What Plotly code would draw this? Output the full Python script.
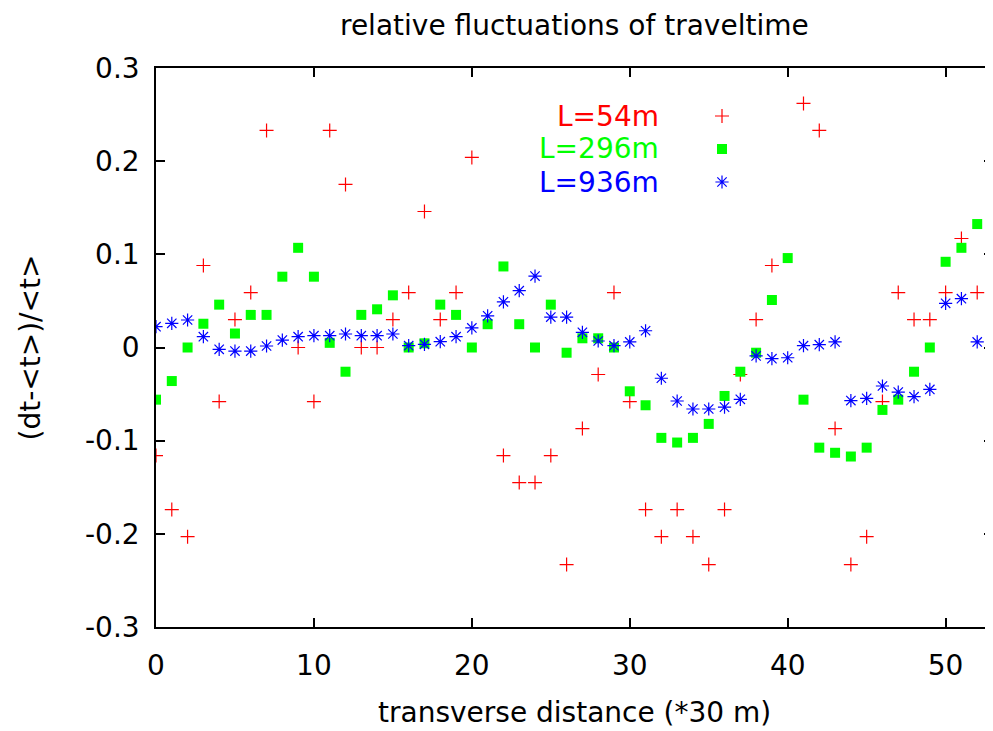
import plotly.graph_objects as go

# ---- data ----
x_vals = list(range(0, 54))

red_54m = [-0.116, -0.174, -0.203, 0.088, -0.058, 0.030, 0.059, 0.233, None, 0.0,
           -0.058, 0.233, 0.175, 0.0, 0.0, 0.030, 0.059, 0.146, 0.030, 0.059,
           0.204, None, -0.116, -0.145, -0.145, -0.116, -0.233, -0.087, -0.029, 0.059,
           -0.058, -0.174, -0.203, -0.174, -0.203, -0.233, -0.174, -0.029, 0.030, 0.088,
           None, 0.262, 0.233, -0.087, -0.233, -0.203, -0.058, 0.059, 0.030, 0.030,
           0.059, 0.117, 0.059, -0.029]

green_296m = [-0.056, -0.036, 0.0, 0.0255, 0.046, 0.015, 0.035, 0.035, 0.076, 0.107,
              0.076, 0.005, -0.026, 0.035, 0.041, 0.056, 0.0, 0.0045, 0.046, 0.035,
              0.0, 0.025, 0.087, 0.025, 0.0, 0.046, -0.0056, 0.0099, 0.0099, 0.0,
              -0.047, -0.062, -0.097, -0.102, -0.097, -0.082, -0.052, -0.026, -0.0056, 0.051,
              0.096, -0.056, -0.1075, -0.113, -0.117, -0.1075, -0.067, -0.056, -0.026, 0.0,
              0.092, 0.107, 0.1325, 0.040]

blue_936m = [0.0223, 0.026, 0.0295, 0.0116, -0.002, -0.0038, -0.0038, 0.0016, 0.008, 0.0116,
             0.0127, 0.0127, 0.0145, 0.0127, 0.0127, 0.0145, 0.002, 0.0034, 0.0062, 0.0116,
             0.021, 0.034, 0.049, 0.061, 0.0767, 0.0327, 0.0327, 0.0163, 0.007, 0.002,
             0.006, 0.018, -0.033, -0.0574, -0.066, -0.066, -0.064, -0.0556, -0.009, -0.012,
             -0.011, 0.002, 0.003, 0.006, -0.057, -0.0545, -0.0413, -0.0478, -0.0528, -0.045,
             0.0474, 0.0524, 0.006, 0.012]

series_names = ["L=54m", "L=296m", "L=936m"]
series_colors = ["#ff0000", "#00ff00", "#0000ff"]

x_ticks = [0, 10, 20, 30, 40, 50]
y_ticks = [-0.3, -0.2, -0.1, 0, 0.1, 0.2, 0.3]
y_ticktext = ["-0.3", "-0.2", "-0.1", "0", "0.1", "0.2", "0.3"]

title_text = "relative fluctuations of traveltime"
x_title = "transverse distance (*30 m)"
y_title = "(dt-<t>)/<t>"

# ---- figure ----
# page has an 8px body margin, so the figure is drawn 8px smaller and all
# positions are expressed in figure pixels (page pixels minus 8)
OFF = 8
W, H = 993 - OFF, 731 - OFF
L_M, R_M, T_M, B_M = 156 - OFF, 0, 68 - OFF, 731 - 627
FONT = "DejaVu Sans"
FS = 28

symbols = ["cross-thin", "square", "asterisk-open"]
sizes = [10, 10, 11]


def make_marker(sym, sz, col):
    if sym == "square":
        return dict(symbol=sym, size=sz, color=col, line=dict(width=0))
    return dict(symbol=sym, size=sz, color=col, line=dict(color=col, width=1.2))


fig = go.Figure()
for ys, name, col, sym, sz in zip([red_54m, green_296m, blue_936m], series_names,
                                  series_colors, symbols, sizes):
    fig.add_trace(go.Scatter(x=x_vals, y=ys, mode="markers", name=name,
                             marker=make_marker(sym, sz, col), showlegend=False))

pw = W - L_M - R_M
ph = H - T_M - B_M


def px_to_paper_x(px):
    return (px - OFF - L_M) / pw


def py_to_paper_y(py):
    return (H - B_M - (py - OFF)) / ph


# manual gnuplot-style key: text right-aligned, sample marker to the right
key_rows_py = [116, 149, 182]
for name, col, sym, sz, py in zip(series_names, series_colors, symbols, sizes, key_rows_py):
    fy = py_to_paper_y(py)
    fig.add_annotation(x=px_to_paper_x(661), y=fy, xref="paper", yref="paper",
                       text=name, showarrow=False, xanchor="right", yanchor="middle",
                       font=dict(family=FONT, size=FS, color=col))
    fig.add_trace(go.Scatter(x=[px_to_paper_x(722)], y=[fy], xaxis="x2", yaxis="y2",
                             mode="markers", marker=make_marker(sym, sz, col),
                             showlegend=False, hoverinfo="skip"))

axis_common = dict(showgrid=False, zeroline=False, showline=True, linecolor="black",
                   linewidth=1.5, mirror="ticks", ticks="inside", ticklen=9, tickwidth=1.5,
                   tickcolor="black", tickfont=dict(family=FONT, size=FS, color="black"))

fig.update_layout(
    width=W, height=H,
    margin=dict(l=L_M, r=R_M, t=T_M, b=B_M, autoexpand=False),
    paper_bgcolor="white", plot_bgcolor="white",
    xaxis=dict(range=[0, 53], tickvals=x_ticks, ticklabelstandoff=13, **axis_common),
    yaxis=dict(range=[-0.3, 0.3], tickvals=y_ticks, ticktext=y_ticktext,
               ticklabelstandoff=9, **axis_common),
    xaxis2=dict(range=[0, 1], overlaying="x", visible=False),
    yaxis2=dict(range=[0, 1], overlaying="y", visible=False),
    font=dict(family=FONT, size=FS, color="black"),
    showlegend=False,
)

fig.add_annotation(x=0.5, y=py_to_paper_y(26), xref="paper", yref="paper",
                   text=title_text, showarrow=False, xanchor="center", yanchor="middle",
                   borderpad=0, font=dict(family=FONT, size=FS, color="black"))
fig.add_annotation(x=0.5, y=py_to_paper_y(712), xref="paper", yref="paper",
                   text=x_title, showarrow=False, xanchor="center", yanchor="middle",
                   font=dict(family=FONT, size=FS, color="black"))
fig.add_annotation(x=px_to_paper_x(30), y=0.5, xref="paper", yref="paper",
                   text=y_title, showarrow=False, xanchor="center", yanchor="middle",
                   textangle=-90, font=dict(family=FONT, size=FS, color="black"))

fig.write_html("out.html")
